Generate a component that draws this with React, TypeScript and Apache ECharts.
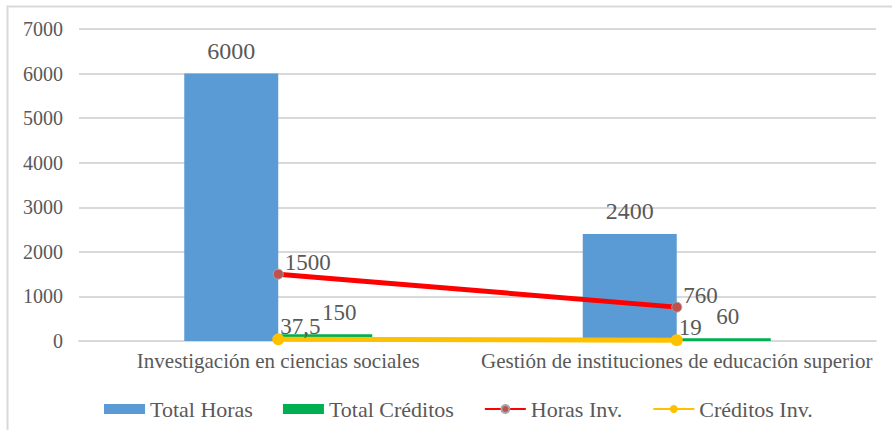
import React, { useEffect, useRef } from "react";
import * as echarts from "echarts";

const categories = [
  "Investigación en ciencias sociales",
  "Gestión de instituciones de educación superior",
];
const totalHoras = [6000, 2400];
const totalCreditos = [150, 60];
const horasInv = [1500, 760];
const creditosInv = [37.5, 19];
const yTicks = { min: 0, max: 7000, interval: 1000 };

const FONT = "Liberation Serif";
const TXT = "#595959";

export default function App() {
  const ref = useRef<HTMLDivElement>(null);
  useEffect(() => {
    if (!ref.current) return;
    const chart = echarts.init(ref.current, undefined, { renderer: "svg" });
    const fmt = (v: number) => String(v).replace(".", ",");
    chart.setOption({
      animation: false,
      backgroundColor: "#ffffff",
      textStyle: { fontFamily: FONT, color: TXT },
      graphic: [
        {
          type: "rect",
          shape: { x: 7.5, y: 6.5, width: 900, height: 450 },
          style: { fill: "none", stroke: "#d9d9d9", lineWidth: 2 },
          silent: true,
        },
      ],
      grid: { left: 79, right: 16, top: 29, bottom: 89, containLabel: false },
      legend: {
        left: 99,
        top: 393,
        itemWidth: 41,
        itemHeight: 10,
        itemGap: 30,
        textStyle: { fontFamily: FONT, color: TXT, fontSize: 22 },
        data: [
          { name: "Total Horas", icon: "rect" },
          { name: "Total Créditos", icon: "rect" },
          { name: "Horas Inv." },
          { name: "Créditos Inv." },
        ],
      },
      xAxis: {
        type: "category",
        data: categories,
        axisLine: { lineStyle: { color: "#d9d9d9", width: 2 } },
        axisTick: { show: false },
        axisLabel: {
          fontFamily: FONT,
          color: TXT,
          fontSize: 21,
          margin: 9,
          interval: 0,
        },
      },
      yAxis: {
        type: "value",
        min: yTicks.min,
        max: yTicks.max,
        interval: yTicks.interval,
        axisLine: { show: false },
        axisTick: { show: false },
        splitLine: { lineStyle: { color: "#d9d9d9", width: 2 } },
        axisLabel: {
          fontFamily: FONT,
          color: TXT,
          fontSize: 20,
          margin: 16,
          formatter: (v: number) => String(v),
        },
      },
      series: [
        {
          name: "Total Horas",
          type: "bar",
          data: totalHoras,
          barWidth: 94,
          barGap: "0%",
          itemStyle: { color: "#5b9bd5" },
          label: {
            show: true,
            position: "top",
            distance: 11,
            fontFamily: FONT,
            color: TXT,
            fontSize: 24,
          },
        },
        {
          name: "Total Créditos",
          type: "bar",
          data: totalCreditos.map((v, i) =>
            i === 0
              ? { value: v, label: { offset: [14, 0] } }
              : { value: v, label: { offset: [4, 0] } }
          ),
          barWidth: 94,
          barGap: "0%",
          itemStyle: { color: "#00b050" },
          label: {
            show: true,
            position: "top",
            distance: 10,
            fontFamily: FONT,
            color: TXT,
            fontSize: 23,
          },
        },
        {
          name: "Horas Inv.",
          type: "line",
          data: horasInv,
          symbol: "circle",
          symbolSize: 10,
          lineStyle: { color: "#ff0000", width: 5 },
          itemStyle: { color: "#c0504d", borderColor: "#a5a5a5", borderWidth: 1 },
          label: {
            show: true,
            position: "right",
            distance: 0,
            offset: [1, -12],
            fontFamily: FONT,
            color: TXT,
            fontSize: 23,
          },
          z: 5,
        },
        {
          name: "Créditos Inv.",
          type: "line",
          data: creditosInv,
          symbol: "circle",
          symbolSize: 12,
          lineStyle: { color: "#ffc000", width: 5 },
          itemStyle: { color: "#ffc000" },
          label: {
            show: true,
            position: "right",
            distance: 0,
            offset: [-4, -13],
            fontFamily: FONT,
            color: TXT,
            fontSize: 23,
            formatter: (p: any) => fmt(p.value),
          },
          z: 5,
        },
      ],
    });
    return () => chart.dispose();
  }, []);
  return (
    <div
      ref={ref}
      style={{ position: "fixed", left: 0, top: 0, width: 892, height: 430 }}
    />
  );
}
